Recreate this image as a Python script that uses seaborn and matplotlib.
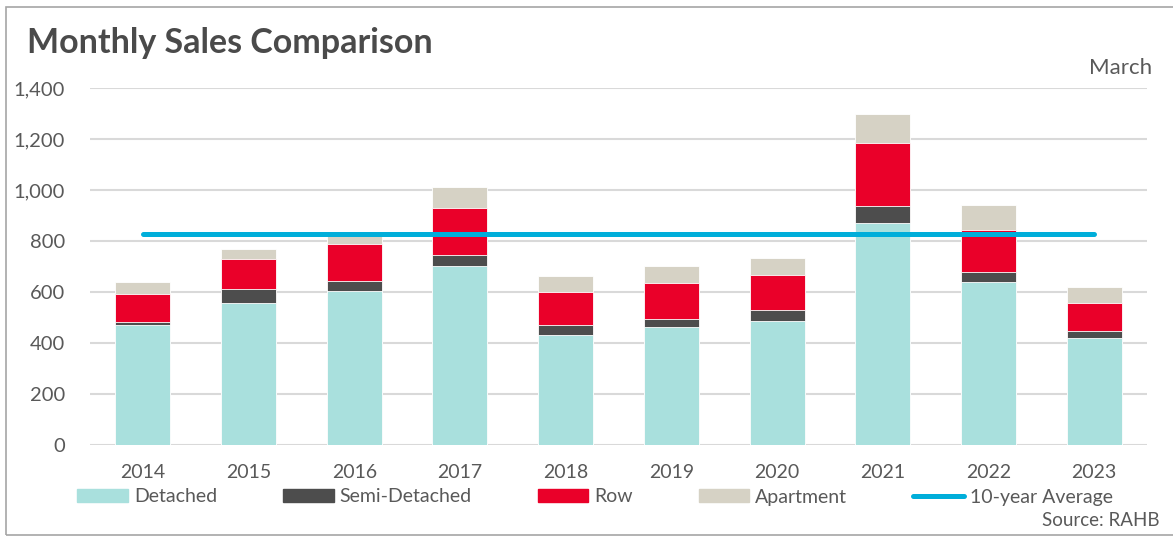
import numpy as np
import pandas as pd
import matplotlib
matplotlib.use("Agg")
import matplotlib.pyplot as plt
import seaborn as sns
from matplotlib.patches import Patch, Rectangle
from matplotlib.lines import Line2D
from matplotlib.ticker import FuncFormatter

# Data (March sales by type)
years = ["2014", "2015", "2016", "2017", "2018", "2019", "2020", "2021", "2022", "2023"]
detached = [470, 558, 605, 702, 431, 464, 485, 869, 638, 421]
semi_detached = [12, 53, 37, 44, 38, 31, 43, 67, 39, 26]
row = [110, 120, 146, 183, 132, 141, 140, 247, 165, 111]
apartment = [47, 38, 43, 83, 63, 66, 64, 115, 99, 62]
ten_year_avg = 828

c_detached = "#A9E0DD"
c_semi = "#4D4D4D"
c_row = "#EA0029"
c_apt = "#D6D2C5"
c_avg = "#00AEDA"
text_col = "#595959"

sns.set_theme(style="white")
plt.rcParams['font.family'] = ['Lato', 'DejaVu Sans']

df = pd.DataFrame({"Year": years, "Detached": detached, "Semi": semi_detached,
                   "Row": row, "Apartment": apartment})
df["semi_top"] = df["Detached"] + df["Semi"]
df["row_top"] = df["semi_top"] + df["Row"]
df["apt_top"] = df["row_top"] + df["Apartment"]

W, H = 1173, 537
fig = plt.figure(figsize=(W / 100, H / 100), dpi=100)
ax = fig.add_axes([90 / W, 1 - 445 / H, (1147 - 90) / W, (445 - 88) / H])

# stacked bars: draw cumulative totals from the top down
for col, color in [("apt_top", c_apt), ("row_top", c_row), ("semi_top", c_semi), ("Detached", c_detached)]:
    sns.barplot(data=df, x="Year", y=col, color=color, width=0.52, saturation=1,
                edgecolor="white", linewidth=0.6, ax=ax)

ax.plot(np.arange(len(years)), [ten_year_avg] * len(years), color=c_avg, lw=3.6,
        solid_capstyle="round", zorder=5)

ax.set_ylim(0, 1400)
ax.set_xlim(-0.5, len(years) - 0.5)
ax.set_yticks(range(0, 1401, 200))
ax.yaxis.set_major_formatter(FuncFormatter(lambda v, p: f"{int(v):,}"))
ax.yaxis.grid(True, color="#D9D9D9", lw=1.5)
ax.set_axisbelow(True)
for s in ax.spines.values():
    s.set_visible(False)
ax.set_xlabel("")
ax.set_ylabel("")
ax.tick_params(axis="y", length=0, pad=18, labelsize=14.5, labelcolor=text_col)
ax.tick_params(axis="x", length=0, pad=14, labelsize=14, labelcolor=text_col)

fig.text(27 / W, 1 - 53 / H, "Monthly Sales Comparison", fontsize=24.5, fontweight="bold",
         color="#4A4A4A", ha="left", va="baseline")
fig.text(1152 / W, 1 - 68 / H, "March", fontsize=16, color=text_col, ha="right", va="center")
fig.text(1160 / W, 1 - 520 / H, "Source: RAHB", fontsize=13.5, color=text_col, ha="right", va="center")

handles = [Patch(color=c_detached, label="Detached"),
           Patch(color=c_semi, label="Semi-Detached"),
           Patch(color=c_row, label="Row"),
           Patch(color=c_apt, label="Apartment"),
           Line2D([0], [0], color=c_avg, lw=3.6, solid_capstyle="round", label="10-year Average")]
leg = fig.legend(handles=handles, loc="center", bbox_to_anchor=(595 / W, 1 - 497 / H), ncol=5,
                 frameon=False, fontsize=14, handlelength=2.6, handleheight=0.6,
                 handletextpad=0.3, columnspacing=3.4)
for t in leg.get_texts():
    t.set_color(text_col)

fig.add_artist(Rectangle((5.5 / W, 1 - 535 / H), 1.5, (535 - 7) / H, transform=fig.transFigure,
                         fill=False, edgecolor="#A6A6A6", lw=1.2))

fig.savefig("out.png", dpi=100)
